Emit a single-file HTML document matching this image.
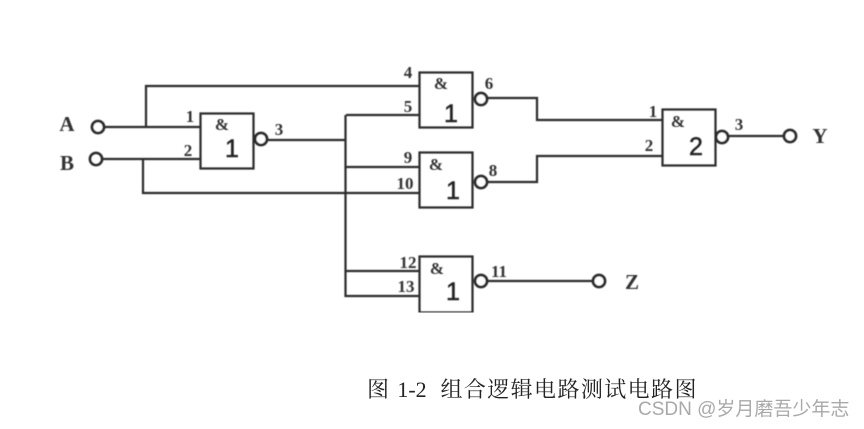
<!DOCTYPE html>
<html>
<head>
<meta charset="utf-8">
<style>
html,body{margin:0;padding:0;background:#fff;width:864px;height:429px;overflow:hidden}
svg{display:block;position:absolute;left:0;top:0}
.l{font-family:"Liberation Serif",serif;font-size:17px;font-weight:bold;fill:#333;text-anchor:middle}
.amp{font-family:"Liberation Serif",serif;font-size:17px;font-weight:bold;fill:#333;text-anchor:middle}
.big{font-family:"Liberation Sans",sans-serif;font-size:25px;fill:#222;stroke:#222;stroke-width:.5px;text-anchor:middle}
.io{font-family:"Liberation Serif",serif;font-size:21px;font-weight:bold;fill:#333;text-anchor:middle}
.cap{position:absolute;left:367px;top:377px;font-family:"Liberation Serif","Noto Serif CJK SC",serif;font-size:22px;line-height:26px;color:#222;white-space:pre;letter-spacing:1.4px}
.cap span{letter-spacing:0}
.wm{position:absolute;left:638px;top:399px;font-family:"Liberation Sans","Noto Sans CJK SC",sans-serif;font-size:19px;line-height:22px;color:#a9a9a9;white-space:pre}
</style>
</head>
<body>
<svg width="864" height="429" viewBox="0 0 864 429" xmlns="http://www.w3.org/2000/svg">
<defs><filter id="b" x="0" y="0" width="100%" height="100%"><feGaussianBlur stdDeviation="0.55"/></filter></defs>
<g filter="url(#b)">
<g fill="none" stroke="#2a2a2a" stroke-width="2.200">
<path d="M104 127H200M146 127V86H420"/>
<path d="M102 159H200M143 159V193H420"/>
<path d="M267 140H346M346 115H420M345.500 115V296H420M346 167H420M346 271H420"/>
<path d="M487 98H537V120H662"/>
<path d="M487 182H537V156H662"/>
<path d="M728 136H785"/>
<path d="M487 281H593"/>
<rect x="200.500" y="113.500" width="53" height="55"/>
<rect x="419.500" y="72.500" width="53" height="55"/>
<rect x="419.500" y="152.500" width="53" height="55"/>
<rect x="419.500" y="256.500" width="53" height="56"/>
<rect x="662.500" y="109.500" width="53" height="56"/>
<g stroke-width="2.800" fill="#fff">
<circle cx="98" cy="127" r="6"/>
<circle cx="96" cy="159" r="6"/>
<circle cx="261" cy="139" r="6"/>
<circle cx="481" cy="99" r="6"/>
<circle cx="481" cy="182" r="6"/>
<circle cx="481" cy="281" r="6"/>
<circle cx="722" cy="137" r="6"/>
<circle cx="790" cy="136" r="6"/>
<circle cx="599" cy="281" r="6"/>
</g>
</g>
<text class="io" x="67" y="131">A</text>
<text class="io" x="67" y="170">B</text>
<text class="io" x="820" y="143">Y</text>
<text class="io" x="632" y="289">Z</text>
<text class="l" x="190" y="122">1</text>
<text class="l" x="188" y="156">2</text>
<text class="l" x="279" y="135">3</text>
<text class="l" x="408" y="78">4</text>
<text class="l" x="408" y="112">5</text>
<text class="l" x="489" y="89">6</text>
<text class="l" x="408" y="163">9</text>
<text class="l" x="405" y="189">10</text>
<text class="l" x="493" y="176">8</text>
<text class="l" x="408" y="268">12</text>
<text class="l" x="406" y="292">13</text>
<text class="l" x="499" y="277">11</text>
<text class="l" x="653" y="117">1</text>
<text class="l" x="649" y="151">2</text>
<text class="l" x="739" y="130">3</text>
<text class="amp" x="222" y="130">&amp;</text>
<text class="amp" x="441" y="89">&amp;</text>
<text class="amp" x="436" y="170">&amp;</text>
<text class="amp" x="437" y="274">&amp;</text>
<text class="amp" x="678" y="127">&amp;</text>
<text class="big" x="232" y="157">1</text>
<text class="big" x="451" y="122">1</text>
<text class="big" x="453" y="199">1</text>
<text class="big" x="453" y="300">1</text>
<text class="big" x="696" y="155">2</text>
</g>
</svg>
<div class="cap">图 <span>1-2</span>  组合逻辑电路测试电路图</div>
<div class="wm">CSDN @岁月磨吾少年志</div>
</body>
</html>
